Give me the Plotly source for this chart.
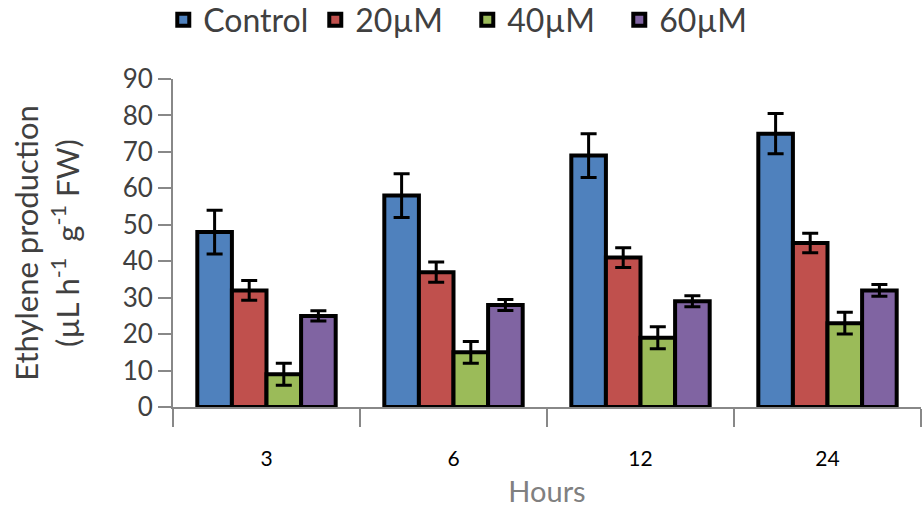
import plotly.graph_objects as go

hours = ["3", "6", "12", "24"]
series_names = ["Control", "20µM", "40µM", "60µM"]
control = [48, 58, 69, 75]
control_err = [6, 6, 6, 5.5]
um20 = [32, 37, 41, 45]
um20_err = [2.7, 2.8, 2.7, 2.7]
um40 = [9, 15, 19, 23]
um40_err = [3, 3, 3, 3]
um60 = [25, 28, 29, 32]
um60_err = [1.4, 1.5, 1.5, 1.6]
colors = ["#4F81BD", "#C0504D", "#9BBB59", "#8064A2"]

values = [control, um20, um40, um60]
errors = [control_err, um20_err, um40_err, um60_err]

FONT = "Lato"

fig = go.Figure()
for name, vals, errs, col in zip(series_names, values, errors, colors):
    fig.add_trace(go.Bar(
        x=hours, y=vals, name=name,
        marker=dict(color=col, line=dict(color="black", width=4)),
        error_y=dict(type="data", array=errs, visible=True,
                     color="black", thickness=3, width=8),
    ))

fig.update_layout(
    width=924, height=508,
    margin=dict(l=173, r=3, t=79, b=101, autoexpand=False),
    paper_bgcolor="white", plot_bgcolor="white",
    barmode="group", bargap=0.26, bargroupgap=0,
    font=dict(family=FONT, color="#404040"),
    showlegend=True,
    legend=dict(orientation="h", x=-0.013, xanchor="left",
                y=1.18, yanchor="middle",
                entrywidth=107, entrywidthmode="pixels",
                font=dict(size=32, family=FONT, color="#404040"),
                bgcolor="rgba(0,0,0,0)"),
    xaxis=dict(
        type="category", automargin=False,
        showline=True, linecolor="#888888", linewidth=2,
        ticks="outside", tickson="boundaries", ticklen=18,
        tickcolor="#888888", tickwidth=2,
        ticklabelstandoff=32,
        tickfont=dict(size=21, family=FONT, color="black"),
        showgrid=False, zeroline=False,
        title=dict(text="Hours", font=dict(size=29, family=FONT, color="#808080"),
                   standoff=17),
    ),
    yaxis=dict(
        range=[0, 90], tickvals=[0, 10, 20, 30, 40, 50, 60, 70, 80, 90],
        automargin=False,
        showline=True, linecolor="#888888", linewidth=2,
        ticks="outside", ticklen=13, tickcolor="#888888", tickwidth=2,
        tickfont=dict(size=26, family=FONT, color="#404040"),
        showgrid=False, zeroline=False,
        title=dict(text="Ethylene production<br>(µL h<sup>-1</sup>  g<sup>-1</sup> FW)",
                   font=dict(size=31, family=FONT, color="#404040"),
                   standoff=34),
    ),
)

fig.write_html("out.html")
